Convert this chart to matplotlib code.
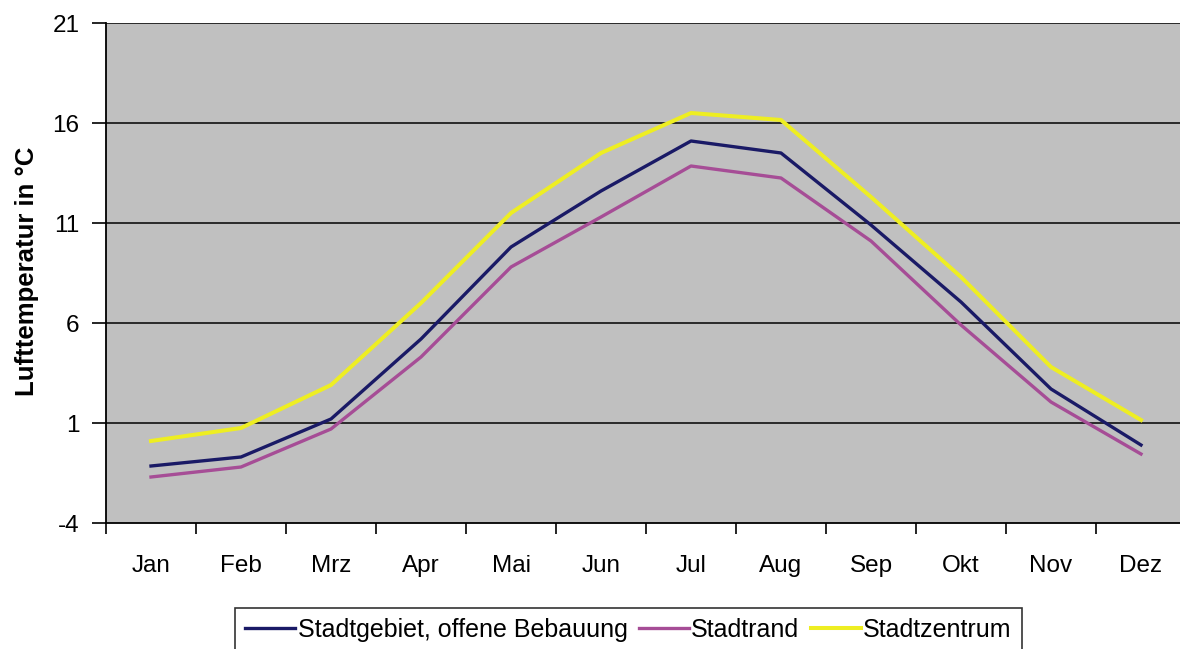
import matplotlib
matplotlib.use('Agg')
import matplotlib.pyplot as plt
from matplotlib.ticker import FixedLocator

plt.rcParams['font.family'] = ['Liberation Sans', 'DejaVu Sans']

MONTHS = ['Jan', 'Feb', 'Mrz', 'Apr', 'Mai', 'Jun', 'Jul', 'Aug', 'Sep', 'Okt', 'Nov', 'Dez']
STADTGEBIET = [-1.15, -0.7, 1.2, 5.2, 9.8, 12.6, 15.1, 14.5, 10.9, 7.05, 2.7, -0.1]
STADTRAND = [-1.7, -1.2, 0.7, 4.3, 8.8, 11.3, 13.85, 13.25, 10.1, 5.9, 2.05, -0.55]
STADTZENTRUM = [0.1, 0.75, 2.9, 7.0, 11.5, 14.5, 16.5, 16.15, 12.3, 8.3, 3.8, 1.15]
YTICKS = [-4, 1, 6, 11, 16, 21]

W, H = 1180, 649
fig = plt.figure(figsize=(W / 100, H / 100), dpi=100)
fig.patch.set_facecolor('white')
# plot area runs a little past the right edge of the figure
ax = fig.add_axes([106 / W, 1 - 523 / H, 1080 / W, 500 / H])
ax.set_facecolor('#c0c0c0')

x = list(range(len(MONTHS)))
ax.plot(x, STADTGEBIET, color='#1a1a66', lw=2.4, label='Stadtgebiet, offene Bebauung', zorder=4)
ax.plot(x, STADTRAND, color='#a64d96', lw=2.4, label='Stadtrand', zorder=3)
ax.plot(x, STADTZENTRUM, color='#eeee22', lw=2.9, label='Stadtzentrum', zorder=2)

ax.set_xlim(-0.5, len(MONTHS) - 0.5)
ax.set_ylim(-4, 21)
ax.set_yticks(YTICKS)
ax.set_yticklabels([str(v) for v in YTICKS])
for v in YTICKS[1:]:
    ax.axhline(v, color='#1e1e1e', lw=1.3, zorder=1)

ax.set_xticks(x)
ax.set_xticklabels(MONTHS)
ax.xaxis.set_minor_locator(FixedLocator([i - 0.5 for i in range(len(MONTHS) + 1)]))
ax.tick_params(axis='x', which='major', length=0, pad=23, labelsize=17.5)
ax.tick_params(axis='x', which='minor', length=8, width=1.2, direction='out', color='black')
ax.tick_params(axis='y', length=10, width=1.2, direction='out', pad=9, labelsize=17.5, color='black')

for side in ('top', 'right'):
    ax.spines[side].set_visible(False)
for side in ('left', 'bottom'):
    ax.spines[side].set_color('black')
    ax.spines[side].set_linewidth(1.3)

fig.text(27 / W, 1 - 271 / H, 'Lufttemperatur in °C', rotation=90, ha='center', va='center',
         fontsize=18.5, fontweight='bold')

leg = fig.legend(loc='upper left', bbox_to_anchor=(235 / W, 1 - 608 / H), ncol=3,
                 fontsize=18, frameon=True, fancybox=False, edgecolor='black',
                 handlelength=2.0, handletextpad=0.1, columnspacing=0.45,
                 borderaxespad=0, borderpad=0.4)
leg.get_frame().set_linewidth(1.2)

fig.savefig('out.png', dpi=100)
plt.close(fig)
